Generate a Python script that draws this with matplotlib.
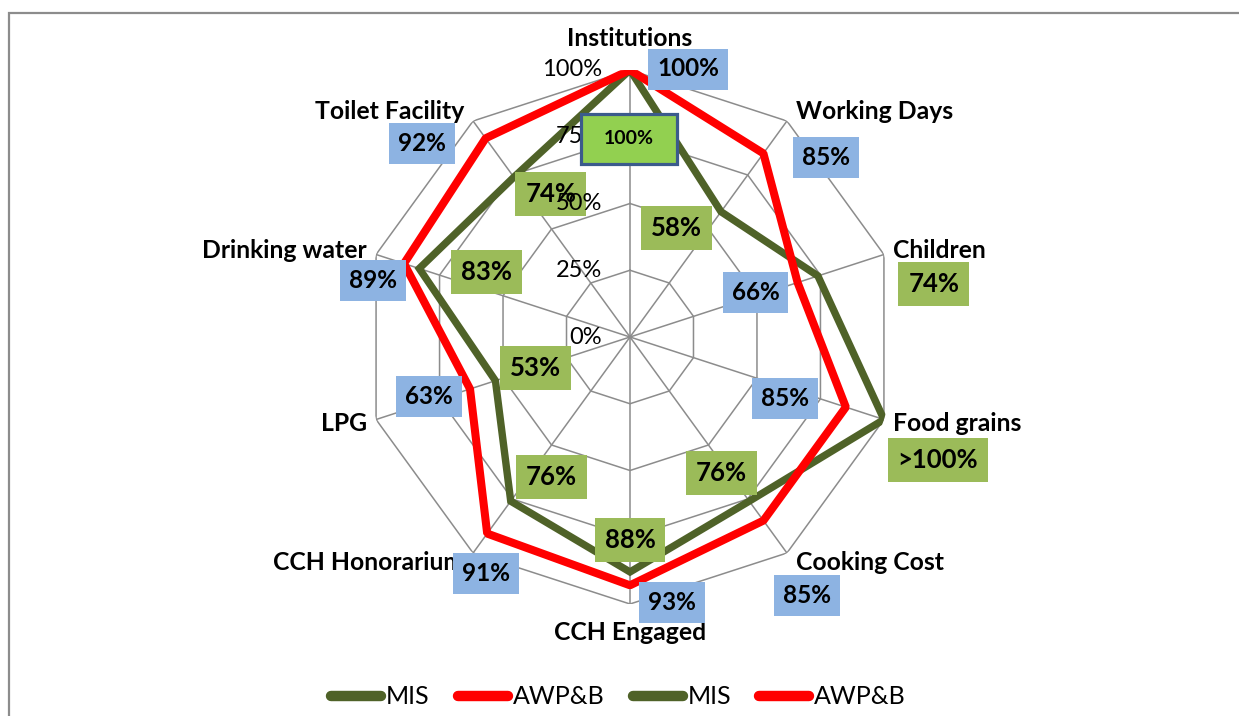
import numpy as np
import matplotlib.pyplot as plt
from matplotlib.lines import Line2D
from matplotlib.patches import Rectangle
from matplotlib.path import Path

categories = ["Institutions", "Working Days", "Children", "Food grains", "Cooking Cost",
              "CCH Engaged", "CCH Honorarium", "LPG", "Drinking water", "Toilet Facility"]
mis_values = [100, 58, 74, 100, 76, 88, 76, 53, 83, 74]
awpb_values = [100, 85, 66, 85, 85, 93, 91, 63, 89, 92]
mis_labels = ["100%", "58%", "74%", ">100%", "76%", "88%", "76%", "53%", "83%", "74%"]
awpb_labels = [f"{v}%" for v in awpb_values]
legend_names = ["MIS", "AWP&B", "MIS", "AWP&B"]
r_ticks = [0, 25, 50, 75, 100]

# where each value box sits relative to its point (pixels, up is positive)
mis_offsets = [(-1, -69), (-45, -16), (116, -8), (54, -40), (-28, 28),
               (0, 32), (41, 24), (40, 13), (67, -3), (37, -17)]
awpb_offsets = [(58, 1), (63, -4), (-42, -10), (-61, 9), (44, -75),
                (42, -17), (-1, -40), (-41, -8), (-31, -17), (-64, -5)]

GREEN = "#4F6228"
RED = "#FF0000"
GRID = "#8C8C8C"
BOX_GREEN = "#9BBB59"
BOX_BLUE = "#8DB3E2"


class PadBox:
    """rectangle with its own x padding and a fixed height (pixels)"""

    def __init__(self, padx, height):
        self.padx = padx
        self.height = height

    def __call__(self, x0, y0, width, height, mutation_size):
        cy = y0 + height / 2
        x1 = x0 - self.padx
        x2 = x0 + width + self.padx
        y1 = cy - self.height / 2
        y2 = cy + self.height / 2
        return Path([(x1, y1), (x2, y1), (x2, y2), (x1, y2), (x1, y1)], closed=True)


plt.rcParams["font.family"] = ["Lato", "DejaVu Sans"]

W, H = 1239, 716
fig = plt.figure(figsize=(W / 100, H / 100), dpi=100)
cx, cy, rad = 630, 337, 267
ax = fig.add_axes([(cx - rad) / W, (H - cy - rad) / H, 2 * rad / W, 2 * rad / H],
                  projection="polar")
ax.set_theta_zero_location("N")
ax.set_theta_direction(-1)
ax.set_ylim(0, 100)
ax.axis("off")

n = len(categories)
theta = np.arange(n) * 2 * np.pi / n
closed = np.append(theta, theta[0])

# decagon grid
for r in r_ticks[1:]:
    ax.plot(closed, [r] * (n + 1), color=GRID, lw=1.1, zorder=1)
for t in theta:
    ax.plot([t, t], [0, 100], color=GRID, lw=1.1, zorder=1)

ax.plot(closed, mis_values + mis_values[:1], color=GREEN, lw=5.3,
        solid_joinstyle="miter", zorder=3)
ax.plot(closed, awpb_values + awpb_values[:1], color=RED, lw=5.8,
        solid_joinstyle="bevel", zorder=4)

# radial tick labels
for r in r_ticks:
    ax.annotate(f"{r}%", (0, r), xytext=(-28, 0), textcoords="offset pixels",
                ha="right", va="center", fontsize=17, color="black", zorder=7.5)

# category labels
for t, name in zip(theta, categories):
    s, c = np.sin(t), np.cos(t)
    if abs(s) < 0.01:
        off = (0, 31 if c > 0 else -28)
        ha = "center"
    else:
        off = (9 * np.sign(s), 12 * c)
        ha = "left" if s > 0 else "right"
    ax.annotate(name, (t, 100), xytext=off, textcoords="offset pixels",
                ha=ha, va="center", fontsize=17.8, fontweight="bold", zorder=6,
                annotation_clip=False)

# value boxes
for i, t in enumerate(theta):
    ax.annotate(awpb_labels[i], (t, awpb_values[i]), xytext=awpb_offsets[i],
                textcoords="offset pixels", ha="center", va="center",
                fontsize=17.5, fontweight="bold", zorder=7, annotation_clip=False,
                bbox=dict(boxstyle=PadBox(9, 41), fc=BOX_BLUE, ec="none"))
    if i == 0:
        box = dict(boxstyle=PadBox(23, 50), fc="#92D050", ec="#3B5B8C", lw=2.3)
        size, z = 14, 8
    else:
        box = dict(boxstyle=PadBox(10, 44), fc=BOX_GREEN, ec="none")
        size, z = 18.5, 7
    ax.annotate(mis_labels[i], (t, mis_values[i]), xytext=mis_offsets[i],
                textcoords="offset pixels", ha="center", va="center",
                fontsize=size, fontweight="bold", zorder=z, annotation_clip=False,
                bbox=box)

# legend
colors = [GREEN, RED, GREEN, RED]
handles = [Line2D([0], [0], color=col, lw=7.5, solid_capstyle="round") for col in colors]
fig.legend(handles, legend_names, loc="center", bbox_to_anchor=(618.5 / W, 1 - 697 / H),
           ncol=4, frameon=False, fontsize=18, handlelength=2.0, handletextpad=0.2,
           columnspacing=1.12, borderpad=0, borderaxespad=0)

# chart area frame (cut off at right and bottom)
fig.patches.append(Rectangle((8.5 / W, -0.05), 1.2, 1 - 12.5 / H + 0.05,
                             transform=fig.transFigure, fill=False, ec="#8C8C8C",
                             lw=1.6, zorder=0))

fig.savefig("out.png", dpi=100)
